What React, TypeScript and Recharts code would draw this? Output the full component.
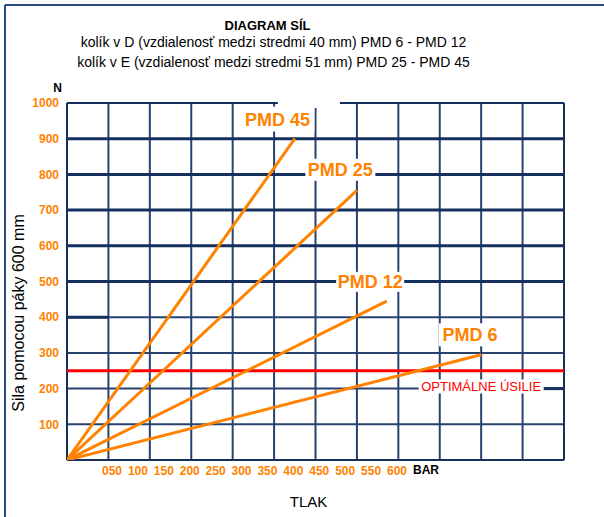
import React from 'react';
import { LineChart, Line, XAxis, YAxis, ReferenceLine, ReferenceDot } from 'recharts';

const seriesNames = ['PMD 45', 'PMD 25', 'PMD 12', 'PMD 6'];
const endPressure = [275, 350, 386, 500];
const endForce = [900, 755, 445, 295];
const optimalForce = 250;
const optimalLabel = 'OPTIMÁLNE ÚSILIE';

const forceTicks = [100, 200, 300, 400, 500, 600, 700, 800, 900, 1000];
const pressureTicks = [50, 100, 150, 200, 250, 300, 350, 400, 450, 500, 550, 600];
const pressureTickLabels = ['050', '100', '150', '200', '250', '300', '350', '400', '450', '500', '550', '600'];

const gridForceThick = [500, 600, 700, 800, 900];
const gridForceThin = [100, 200, 300, 400];
const gridPressure = [50, 100, 150, 200, 250, 300, 350, 400, 450, 500, 550];

// label anchor points in data coordinates (pressure, force)
const labelPressure = [254, 330, 366, 486.5];
const labelForce = [955, 813, 499, 350.6];
const labelBoxW = [74, 70, 68, 62];
const labelBoxH = [25, 22, 20, 23];

const ORANGE = '#ff8200';
const NAVY = '#15305f';
const GRID = '#26426f';

const seriesData = seriesNames.map((name, i) => ({
  name,
  data: [
    { x: 0, y: 0 },
    { x: endPressure[i], y: endForce[i] },
  ],
}));

const tickAnchorData = pressureTicks.map((p) => ({ p, y: 0 }));

const fmtPressure = (v: number) => {
  const idx = pressureTicks.indexOf(v);
  return idx >= 0 ? pressureTickLabels[idx] : String(v);
};

const LabelShape = (props: any) => {
  const { cx, cy, text, w, h, color, size, bold } = props;
  return (
    <g>
      <rect x={cx - w / 2} y={cy - h / 2} width={w} height={h} fill="#fff" />
      <text
        x={cx}
        y={cy}
        dy="0.36em"
        textAnchor="middle"
        fill={color}
        fontSize={size}
        fontWeight={bold ? 'bold' : 'normal'}
        fontFamily='"Liberation Sans", Arial, sans-serif'
      >
        {text}
      </text>
    </g>
  );
};

const WhiteBox = (props: any) => {
  const { cx, cy, w, h } = props;
  return <rect x={cx - w / 2} y={cy - h / 2} width={w} height={h} fill="#fff" />;
};

export default function App() {
  return (
    <div
      style={{
        position: 'absolute',
        left: 0,
        top: 0,
        width: 604,
        height: 517,
        background: '#fff',
        fontFamily: '"Liberation Sans", Arial, sans-serif',
      }}
    >
      <LineChart width={604} height={517} margin={{ top: 103, right: 40, bottom: 37, left: 0 }}>
        <XAxis xAxisId="main" type="number" dataKey="x" domain={[0, 600]} hide allowDataOverflow />
        <XAxis
          xAxisId="lab"
          type="number"
          dataKey="p"
          domain={[-36.84, 922.3]}
          ticks={pressureTicks}
          interval={0}
          tickFormatter={fmtPressure}
          axisLine={false}
          tickLine={false}
          tickSize={4}
          height={20}
          allowDataOverflow
          tick={{ fill: ORANGE, fontSize: 12, fontWeight: 'bold' }}
        />
        <YAxis
          type="number"
          domain={[0, 1000]}
          ticks={forceTicks}
          interval={0}
          width={67}
          axisLine={false}
          tickLine={false}
          allowDataOverflow
          tick={{ fill: ORANGE, fontSize: 12, fontWeight: 'bold' }}
        />

        <Line
          xAxisId="lab"
          data={tickAnchorData}
          dataKey="y"
          stroke="none"
          strokeWidth={0}
          dot={false}
          activeDot={false}
          legendType="none"
          isAnimationActive={false}
        />

        {gridPressure.map((p) => (
          <ReferenceLine key={'v' + p} xAxisId="main" x={p} stroke={GRID} strokeWidth={2} />
        ))}
        {gridForceThin.map((f) => (
          <ReferenceLine key={'ht' + f} xAxisId="main" y={f} stroke={GRID} strokeWidth={2} />
        ))}
        <ReferenceLine xAxisId="main" segment={[{ x: 0, y: 400 }, { x: 50, y: 400 }]} stroke={NAVY} strokeWidth={3} />
        <ReferenceLine xAxisId="main" segment={[{ x: 573, y: 200 }, { x: 600, y: 200 }]} stroke={NAVY} strokeWidth={3} />
        {gridForceThick.map((f) => (
          <ReferenceLine key={'hk' + f} xAxisId="main" y={f} stroke={NAVY} strokeWidth={3} />
        ))}
        <ReferenceLine xAxisId="main" y={1000} stroke={NAVY} strokeWidth={2} />
        <ReferenceLine xAxisId="main" y={0} stroke={NAVY} strokeWidth={2} />
        <ReferenceLine xAxisId="main" x={0} stroke={NAVY} strokeWidth={2} />
        <ReferenceLine xAxisId="main" x={600} stroke={NAVY} strokeWidth={2} />

        <ReferenceLine xAxisId="main" y={optimalForce} stroke="#ff0000" strokeWidth={3} />

        {seriesData.map((s) => (
          <Line
            key={s.name}
            xAxisId="main"
            data={s.data}
            dataKey="y"
            name={s.name}
            stroke={ORANGE}
            strokeWidth={3}
            dot={false}
            activeDot={false}
            isAnimationActive={false}
          />
        ))}

        <ReferenceDot
          xAxisId="main"
          x={292}
          y={1000}
          r={0}
          ifOverflow="visible"
          shape={(p: any) => <WhiteBox {...p} w={62} h={10} />}
        />
        {seriesNames.map((name, i) => (
          <ReferenceDot
            key={'lbl' + name}
            xAxisId="main"
            x={labelPressure[i]}
            y={labelForce[i]}
            r={0}
            ifOverflow="visible"
            shape={(p: any) => (
              <LabelShape {...p} text={name} w={labelBoxW[i]} h={labelBoxH[i]} color={ORANGE} size={18} bold />
            )}
          />
        ))}
        <ReferenceDot
          xAxisId="main"
          x={500}
          y={206}
          r={0}
          ifOverflow="visible"
          shape={(p: any) => (
            <LabelShape {...p} text={optimalLabel} w={125} h={14} color="#ff0000" size={13} bold={false} />
          )}
        />
      </LineChart>

      <svg
        width={604}
        height={517}
        style={{ position: 'absolute', left: 0, top: 0, pointerEvents: 'none' }}
        fontFamily='"Liberation Sans", Arial, sans-serif'
      >
        <line x1={5} y1={5} x2={604} y2={5} stroke="#2a4a7f" strokeWidth={2} />
        <line x1={5} y1={5} x2={5} y2={517} stroke="#2a4a7f" strokeWidth={2} />
        <text x={267.5} y={30} textAnchor="middle" fontSize={13} fontWeight="bold" fill="#000">
          DIAGRAM SÍL
        </text>
        <text x={273.5} y={47} textAnchor="middle" fontSize={14} fill="#000">
          kolík v D (vzdialenosť medzi stredmi 40 mm) PMD 6 - PMD 12
        </text>
        <text x={273.5} y={67} textAnchor="middle" fontSize={14} fill="#000">
          kolík v E (vzdialenosť medzi stredmi 51 mm) PMD 25 - PMD 45
        </text>
        <text x={57.5} y={92} textAnchor="middle" fontSize={12} fontWeight="bold" fill="#000">
          N
        </text>
        <text x={426} y={474} textAnchor="middle" fontSize={12} fontWeight="bold" fill="#000">
          BAR
        </text>
        <text x={308.5} y={507} textAnchor="middle" fontSize={15} fill="#000">
          TLAK
        </text>
        <text x={24} y={313} textAnchor="middle" fontSize={16} fill="#000" transform="rotate(-90 24 313)">
          Sila pomocou páky 600 mm
        </text>
      </svg>
    </div>
  );
}
